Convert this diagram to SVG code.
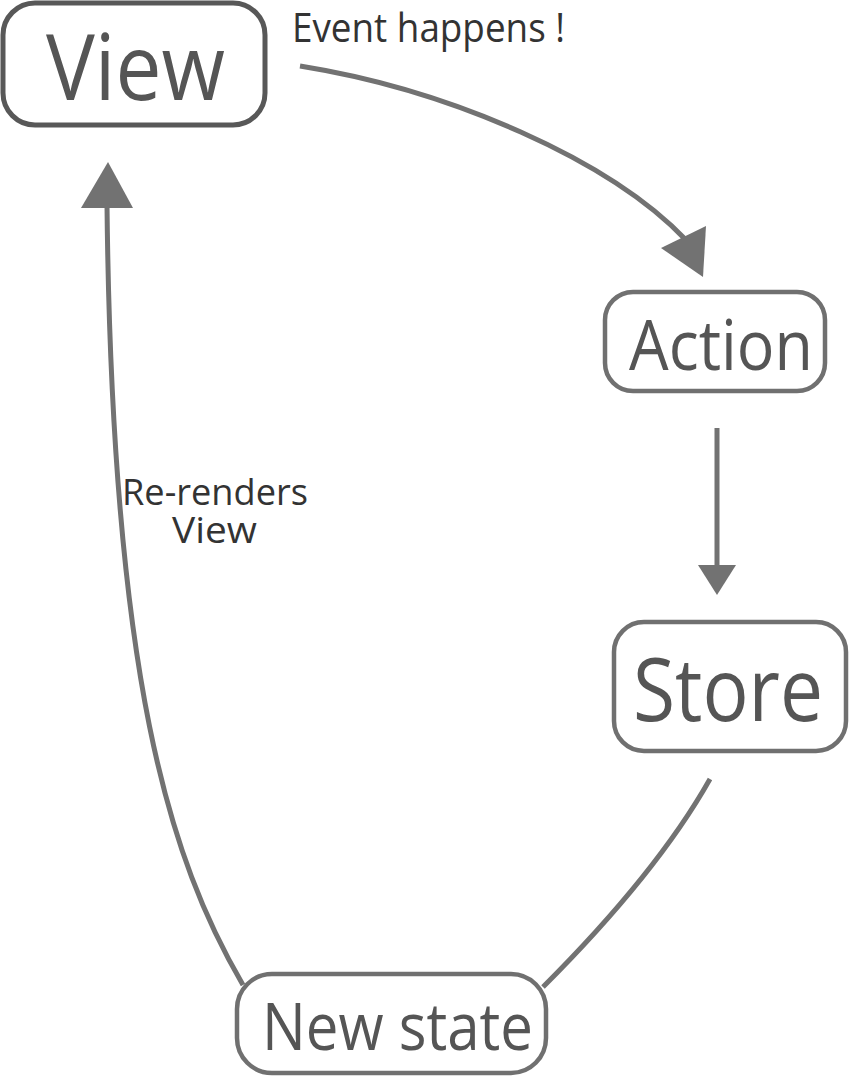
<svg xmlns="http://www.w3.org/2000/svg" width="850" height="1076" viewBox="0 0 850 1076">
<style>
.box{fill:#fff;stroke:#707070;stroke-width:4.5}
.node{font-family:"Open Sans","Noto Sans",sans-serif;fill:#555}
.lbl{font-family:"Open Sans","Noto Sans",sans-serif;fill:#333}
.edge{fill:none;stroke:#727272;stroke-width:5}
.head{fill:#727272}
</style>
<rect width="850" height="1076" fill="#fff"/>
<g id="connectors">
<path class="edge" d="M300,66 C450,90 610,160 686,240"/>
<polygon class="head" points="703,277 661,248 706,226"/>
<line class="edge" x1="717" y1="428" x2="717" y2="567" stroke-width="4.5"/>
<polygon class="head" points="698,565 736,565 717,595"/>
<path class="edge" d="M710,779 C670,850 610,920 543,987"/>
<path class="edge" d="M243,985 C170,860 112,680 107,205"/>
<polygon class="head" points="108,162 81,208 133,208"/>
</g>
<g id="node-view">
<rect class="box" x="3" y="3" width="262" height="122" rx="32" style="stroke:#585858;stroke-width:5"/>
<text class="node" x="46" y="100" font-size="91" textLength="179" lengthAdjust="spacingAndGlyphs">View</text>
</g>
<g id="node-action">
<rect class="box" x="605" y="292" width="220" height="99" rx="28"/>
<text class="node" x="629" y="370" font-size="70" textLength="184" lengthAdjust="spacingAndGlyphs">Action</text>
</g>
<g id="node-store">
<rect class="box" x="614" y="622" width="232" height="129" rx="30"/>
<text class="node" x="633" y="721" font-size="88" textLength="190" lengthAdjust="spacingAndGlyphs">Store</text>
</g>
<g id="node-newstate">
<rect class="box" x="237" y="974" width="309" height="99" rx="35"/>
<text class="node" x="262" y="1050" font-size="66" textLength="271" lengthAdjust="spacingAndGlyphs">New state</text>
</g>
<g id="labels">
<text class="lbl" x="292" y="42" font-size="40" textLength="273" lengthAdjust="spacingAndGlyphs">Event happens !</text>
<text class="lbl" x="122" y="505" font-size="37" textLength="186" lengthAdjust="spacingAndGlyphs">Re-renders</text>
<text class="lbl" x="172" y="543" font-size="37" textLength="85" lengthAdjust="spacingAndGlyphs">View</text>
</g>
</svg>
